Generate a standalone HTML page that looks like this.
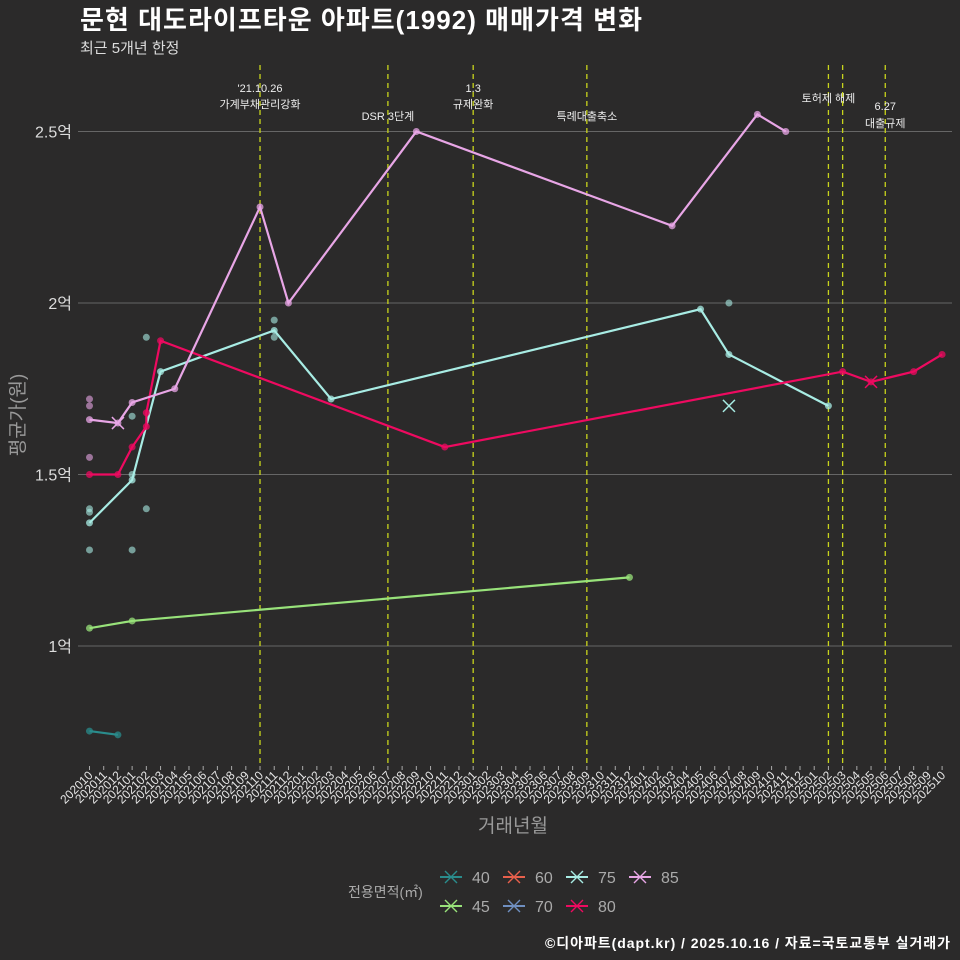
<!DOCTYPE html>
<html><head><meta charset="utf-8"><style>
html,body{margin:0;padding:0;background:#2b2a2a;}
svg{display:block;font-family:"Liberation Sans","Noto Sans CJK KR",sans-serif;}
</style></head><body>
<svg id="chart" width="960" height="960" viewBox="0 0 960 960">
<rect width="960" height="960" fill="#2b2a2a"/>
<text x="80" y="29" fill="#ffffff" font-size="26" font-weight="bold" textLength="562">문현 대도라이프타운 아파트(1992) 매매가격 변화</text>
<text x="80" y="53" fill="#dddddd" font-size="15">최근 5개년 한정</text>
<g id="grid"></g>
<g id="vlines"></g>
<g id="series"></g>
<g id="xaxis"></g>
<g id="yaxis"></g>
<text x="513" y="832" fill="#999" font-size="19" text-anchor="middle">거래년월</text>
<text transform="translate(24,415) rotate(-90)" fill="#999" font-size="19" text-anchor="middle">평균가(원)</text>
<g id="legend"></g>
<text x="950" y="948" fill="#ffffff" font-size="14" font-weight="bold" text-anchor="end" textLength="405">©디아파트(dapt.kr) / 2025.10.16 / 자료=국토교통부 실거래가</text>
</svg>
<script>
const yTicks=[1,1.5,2,2.5];
const yTickLabels=["1억","1.5억","2억","2.5억"];
const policyMonths=[12,21,27,35,52,53,56];
const policyLabels=[["'21.10.26","가계부채관리강화"],["DSR 3단계"],["1.3","규제완화"],["특례대출축소"],["토허제 해제"],[],["6.27","대출규제"]];
const policyLabelY=[[92,108],[120],[92,108],[120],[102],[],[110,127]];
const areas=["40","45","60","70","75","80","85"];
const colors={"40":"#2a8c8c","45":"#98e27a","60":"#e8604c","70":"#6f8fc0","75":"#a8ece4","80":"#ee0a60","85":"#e8a6e6"};
const lines={
"40":[[0,0.752],[2,0.741]],
"45":[[0,1.052],[3,1.073],[38,1.20]],
"75":[[0,1.359],[3,1.484],[5,1.80],[13,1.92],[17,1.72],[43,1.982],[45,1.85],[52,1.70]],
"80":[[0,1.5],[2,1.5],[3,1.58],[4,1.64],[4,1.68],[5,1.89],[25,1.58],[53,1.80],[55,1.77],[58,1.80],[60,1.85]],
"85":[[0,1.66],[2,1.65],[3,1.71],[6,1.75],[12,2.28],[14,2.0],[23,2.5],[41,2.225],[47,2.55],[49,2.5]]
};
const crosses={"75":[[45,1.70]],"80":[[55,1.77]],"85":[[2,1.65]]};
const scatter={
"75":[[0,1.39],[0,1.40],[0,1.28],[3,1.28],[3,1.5],[3,1.67],[4,1.90],[4,1.40],[13,1.95],[13,1.90],[45,2.0]],
"85":[[0,1.72],[0,1.70],[0,1.55]]
};
const NS="http://www.w3.org/2000/svg";
const X=m=>89.5+m*14.21;
const Y=v=>646-(v-1)*343;
function mk(tag,attrs,parent){const e=document.createElementNS(NS,tag);for(const k in attrs)e.setAttribute(k,attrs[k]);parent.appendChild(e);return e;}
const grid=document.getElementById('grid'),yax=document.getElementById('yaxis'),xax=document.getElementById('xaxis'),vl=document.getElementById('vlines'),ser=document.getElementById('series'),leg=document.getElementById('legend');
yTicks.forEach((t,i)=>{
 const l=mk('line',{x1:78,x2:952,y1:Y(t),y2:Y(t),stroke:'#666','stroke-width':1},grid);
 
 
 const tx=mk('text',{x:72,y:Y(t)+6,fill:'#dddddd','font-size':16,'text-anchor':'end'},yax);
 tx.textContent=yTickLabels[i];
 
 
});
for(let m=0;m<=60;m++){
 const yr=2020+Math.floor((m+9)/12),mo=((m+9)%12)+1;
 const lab=yr+String(mo).padStart(2,'0');
 mk('line',{x1:X(m),x2:X(m),y1:766,y2:770,stroke:'#aaa'},xax);
 const t=mk('text',{x:0,y:0,fill:'#e6e6e6','font-size':12,'text-anchor':'end',transform:`translate(${X(m)+4},${776}) rotate(-45)`},xax);
 t.textContent=lab;
 
 
}
policyMonths.forEach((m,i)=>{
 const l=mk('line',{x1:X(m),x2:X(m),y1:65,y2:766,stroke:'#c8d41c','stroke-width':1.3,'stroke-dasharray':'5,4'},vl);
 
 
 policyLabels[i].forEach((s,j)=>{
  const t=mk('text',{x:X(m),y:policyLabelY[i][j],fill:'#eeeeee','font-size':11,'text-anchor':'middle'},vl);
  t.textContent=s;
  
  
 });
});
for(const a in scatter){scatter[a].forEach(p=>{
 const c=mk('circle',{cx:X(p[0]),cy:Y(p[1]),r:3.5,fill:colors[a],opacity:0.6},ser);
 
 
});}
for(const a in lines){
 const pts=lines[a];
 const pl=mk('polyline',{points:pts.map(p=>X(p[0])+','+Y(p[1])).join(' '),fill:'none',stroke:colors[a],'stroke-width':2.2},ser);
 
 
 pts.forEach(p=>{
  const c=mk('circle',{cx:X(p[0]),cy:Y(p[1]),r:3.5,fill:colors[a],opacity:0.75},ser);
  
  
 });
}
for(const a in crosses){crosses[a].forEach(p=>{
 const x=X(p[0]),y=Y(p[1]);
 const g=mk('path',{d:`M${x-6},${y-6}L${x+6},${y+6}M${x-6},${y+6}L${x+6},${y-6}`,stroke:colors[a],'stroke-width':1.5},ser);
 
 
});}
const lt=mk('text',{x:348,y:897,fill:'#aaa','font-size':14},leg);
lt.textContent='전용면적(㎡)';


const legOrder=[["40",0,0],["60",1,0],["75",2,0],["85",3,0],["45",0,1],["70",1,1],["80",2,1]];
legOrder.forEach(([a,c,r])=>{
 const x=440+c*63,y=877+r*29;
 const g=mk('g',{},leg);
 
 
 mk('line',{x1:x,x2:x+22,y1:y,y2:y,stroke:colors[a],'stroke-width':2},g);
 mk('path',{d:`M${x+5},${y-6}L${x+17},${y+6}M${x+5},${y+6}L${x+17},${y-6}`,stroke:colors[a],'stroke-width':1.4},g);
 const t=mk('text',{x:x+32,y:y+6,fill:'#aaa','font-size':16},g);
 t.textContent=a;
});
</script>
</body></html>
